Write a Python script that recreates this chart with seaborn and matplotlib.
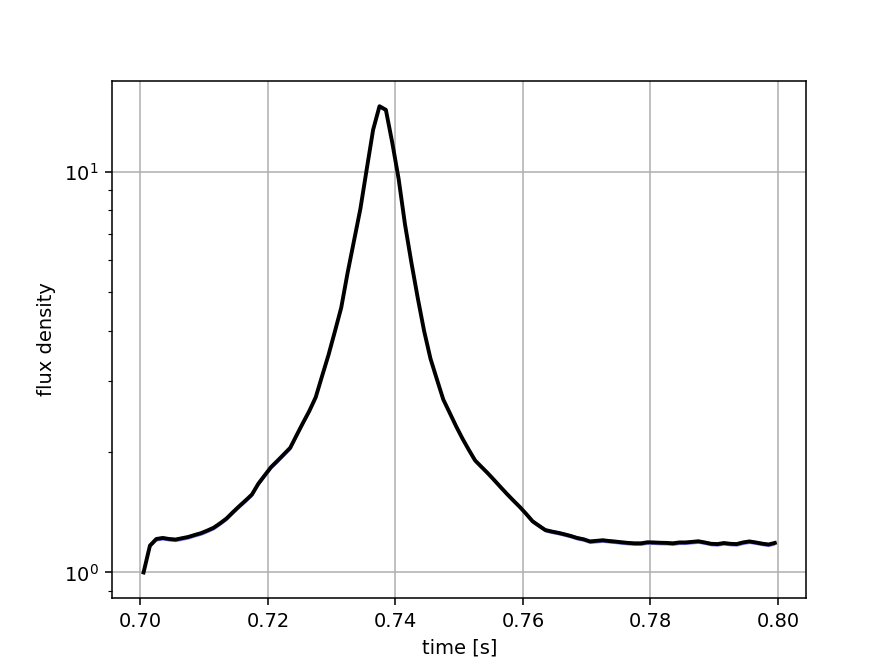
import numpy as np
import pandas as pd
import seaborn as sns
import matplotlib
matplotlib.use("Agg")
import matplotlib.pyplot as plt

# bin centres of the light curve (1 ms bins)
time = np.arange(100) * 0.001 + 0.7005

flux = [1.000, 1.167, 1.212, 1.219, 1.212, 1.208, 1.217, 1.226, 1.240, 1.253,
        1.272, 1.293, 1.326, 1.363, 1.413, 1.463, 1.512, 1.565, 1.665, 1.747,
        1.832, 1.899, 1.971, 2.046, 2.199, 2.361, 2.529, 2.736, 3.091, 3.486,
        3.988, 4.576, 5.591, 6.716, 8.067, 10.14, 12.71, 14.55, 14.25, 11.81,
        9.590, 7.381, 5.931, 4.837, 4.000, 3.413, 3.033, 2.701, 2.503, 2.318,
        2.159, 2.023, 1.902, 1.833, 1.767, 1.699, 1.632, 1.569, 1.511, 1.457,
        1.400, 1.342, 1.308, 1.276, 1.265, 1.256, 1.245, 1.233, 1.219, 1.210,
        1.195, 1.199, 1.203, 1.198, 1.194, 1.189, 1.185, 1.182, 1.182, 1.189,
        1.188, 1.186, 1.185, 1.182, 1.188, 1.188, 1.192, 1.196, 1.188, 1.179,
        1.177, 1.184, 1.179, 1.177, 1.188, 1.195, 1.188, 1.180, 1.174, 1.185]

rel_err = 0.012

df = pd.DataFrame({"time": time, "flux": flux})
lower = df["flux"] * (1 - rel_err)
upper = df["flux"] * (1 + rel_err)

fig, ax = plt.subplots(figsize=(6.4, 4.8), dpi=140)
ax.fill_between(df["time"], lower, upper, color="blue", alpha=0.5, linewidth=0)
sns.lineplot(data=df, x="time", y="flux", color="black", linewidth=2, ax=ax)
ax.set_yscale("log")
ax.grid(True)
ax.set_xlabel("time [s]")
ax.set_ylabel("flux density")
plt.savefig("out.png", dpi=140)
